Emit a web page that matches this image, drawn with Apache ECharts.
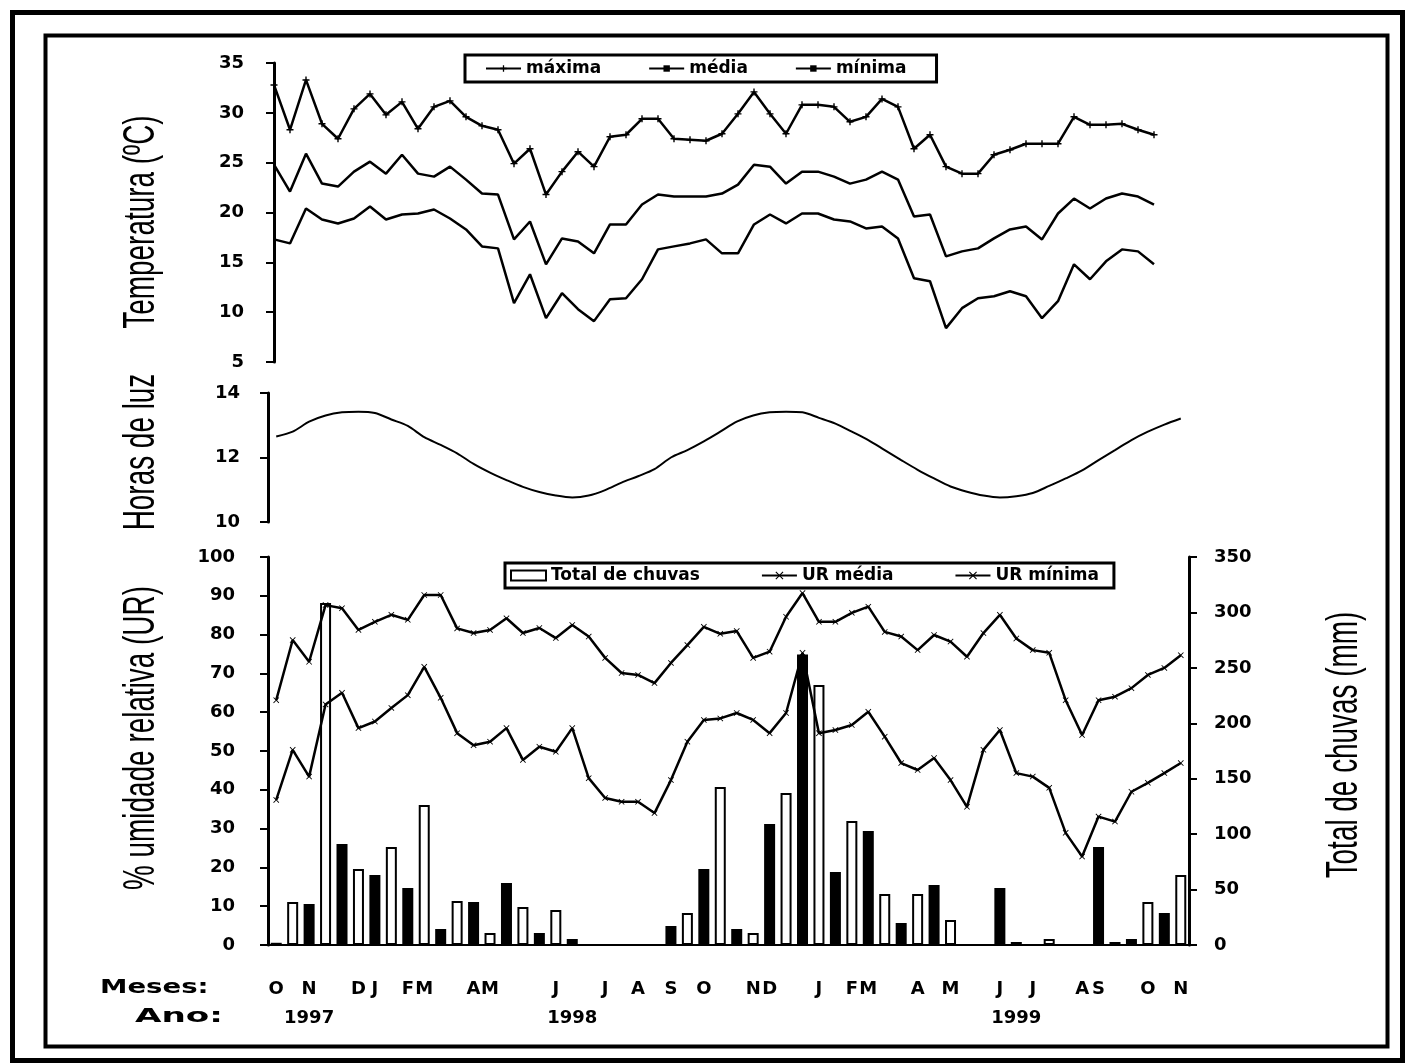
<!DOCTYPE html>
<html>
<head>
<meta charset="utf-8">
<script src="https://cdn.jsdelivr.net/npm/echarts@6/dist/echarts.min.js"></script>
<style>
html,body{margin:0;padding:0;background:#fff;}
#chart{width:1407px;height:1064px;}
</style>
</head>
<body>
<div id="chart"></div>
<script>
// ---- data (biweekly records, Oct 1997 – Nov 1999) ----
const periods = Array.from({length: 56}, (_, i) => String(i));

const tempMax = [32.8, 28.3, 33.3, 28.9, 27.4, 30.4, 31.9, 29.8, 31.1, 28.4, 30.6, 31.2, 29.6, 28.7, 28.3, 24.9, 26.4, 21.8, 24.1, 26.1, 24.6, 27.6, 27.8, 29.4, 29.4, 27.4, 27.3, 27.2, 27.9, 29.9, 32.1, 29.9, 27.9, 30.8, 30.8, 30.6, 29.1, 29.6, 31.4, 30.6, 26.4, 27.8, 24.6, 23.9, 23.9, 25.8, 26.3, 26.9, 26.9, 26.9, 29.6, 28.8, 28.8, 28.9, 28.3, 27.8];
const tempMed = [24.8, 22.1, 25.9, 22.9, 22.6, 24.1, 25.1, 23.9, 25.8, 23.9, 23.6, 24.6, 23.3, 21.9, 21.8, 17.3, 19.1, 14.8, 17.4, 17.1, 15.9, 18.8, 18.8, 20.8, 21.8, 21.6, 21.6, 21.6, 21.9, 22.8, 24.8, 24.6, 22.9, 24.1, 24.1, 23.6, 22.9, 23.3, 24.1, 23.3, 19.6, 19.8, 15.6, 16.1, 16.4, 17.4, 18.3, 18.6, 17.3, 19.9, 21.4, 20.4, 21.4, 21.9, 21.6, 20.8];
const tempMin = [17.3, 16.9, 20.4, 19.3, 18.9, 19.4, 20.6, 19.3, 19.8, 19.9, 20.3, 19.4, 18.3, 16.6, 16.4, 10.9, 13.8, 9.4, 11.9, 10.3, 9.1, 11.3, 11.4, 13.3, 16.3, 16.6, 16.9, 17.3, 15.9, 15.9, 18.8, 19.8, 18.9, 19.9, 19.9, 19.3, 19.1, 18.4, 18.6, 17.4, 13.4, 13.1, 8.4, 10.4, 11.4, 11.6, 12.1, 11.6, 9.4, 11.1, 14.8, 13.3, 15.1, 16.3, 16.1, 14.8];

const dayLength = [12.65, 12.8, 13.11, 13.3, 13.4, 13.42, 13.38, 13.18, 12.98, 12.63, 12.39, 12.13, 11.8, 11.53, 11.3, 11.09, 10.93, 10.82, 10.76, 10.82, 10.99, 11.22, 11.42, 11.64, 12.0, 12.23, 12.5, 12.8, 13.11, 13.3, 13.4, 13.42, 13.4, 13.23, 13.05, 12.8, 12.54, 12.23, 11.92, 11.62, 11.35, 11.1, 10.94, 10.82, 10.76, 10.8, 10.9, 11.12, 11.35, 11.6, 11.92, 12.23, 12.54, 12.8, 13.02, 13.21];

const urMedia = [63.1, 78.6, 73.0, 87.6, 86.8, 81.2, 83.3, 85.1, 83.8, 90.2, 90.2, 81.6, 80.4, 81.2, 84.2, 80.4, 81.7, 79.1, 82.5, 79.5, 74.0, 70.1, 69.6, 67.5, 72.7, 77.3, 82.0, 80.2, 80.9, 74.0, 75.6, 84.6, 90.7, 83.3, 83.3, 85.6, 87.2, 80.7, 79.5, 76.0, 79.9, 78.2, 74.3, 80.4, 85.1, 79.0, 76.0, 75.3, 63.1, 54.1, 63.1, 64.0, 66.2, 69.6, 71.4, 74.7];
const urMinima = [37.4, 50.3, 43.4, 62.0, 65.0, 55.9, 57.6, 61.1, 64.4, 71.7, 63.7, 54.6, 51.5, 52.4, 55.9, 47.7, 51.1, 49.8, 55.9, 43.0, 37.9, 36.9, 36.9, 34.0, 42.5, 52.4, 58.0, 58.4, 59.8, 58.0, 54.6, 59.8, 75.3, 54.6, 55.4, 56.7, 60.1, 53.7, 46.9, 45.1, 48.2, 42.5, 35.6, 50.3, 55.4, 44.3, 43.4, 40.5, 28.9, 22.8, 33.1, 31.8, 39.5, 41.8, 44.3, 46.9];
const chuvas = [2, 38.8, 37, 308.5, 91.1, 68.6, 63.1, 88.4, 51.4, 126.3, 14.4, 39.7, 38.8, 10.8, 55.9, 34.3, 10.8, 31.6, 5.4, 0, 0, 0, 0, 0, 17.1, 28.9, 68.6, 142.5, 14.4, 10.8, 109.1, 137.1, 262, 234.5, 65.8, 111.9, 102.8, 46, 19.8, 46, 54.1, 22.6, 0, 0, 51.4, 2.7, 0, 5.4, 0, 0, 88.4, 2.7, 5.4, 38.8, 28.9, 63.1];

// month / year tick labels keyed by period index
const monthLabels = {0:'O', 2:'N', 5:'D', 6:'J', 8:'F', 9:'M', 12:'A', 13:'M', 17:'J', 20:'J', 22:'A', 24:'S', 26:'O', 29:'N', 30:'D', 33:'J', 35:'F', 36:'M', 39:'A', 41:'M', 44:'J', 46:'J', 49:'A', 50:'S', 53:'O', 55:'N'};
const yearLabels = {2:'1997', 18:'1998', 45:'1999'};

const tempTicks = {min: 5, max: 35, interval: 5};
const lightTicks = {min: 10, max: 14, interval: 2};
const urTicks = {min: 0, max: 100, interval: 10};
const rainTicks = {min: 0, max: 350, interval: 50};

// ---- styling ----
const BLK = '#000';
const tickFont = {color: BLK, fontFamily: 'DejaVu Sans', fontWeight: 'bold', fontSize: 18};
const legendFont = {color: BLK, fontFamily: 'DejaVu Sans', fontWeight: 'bold', fontSize: 17};
const plusSym = 'path://M4,0H6V4H10V6H6V10H4V6H0V4H4Z';
const xSym = 'path://M0,1L1,0L5,4L9,0L10,1L6,5L10,9L9,10L5,6L1,10L0,9L4,5Z';
const dashSym = 'rect';

function yAx(gridIndex, t, extra) {
  return Object.assign({
    type: 'value', gridIndex: gridIndex, min: t.min, max: t.max, interval: t.interval,
    axisLine: {show: true, lineStyle: {color: BLK, width: 3}},
    axisTick: {show: true, inside: false, length: 8, lineStyle: {color: BLK, width: 2}},
    axisLabel: Object.assign({margin: 30}, tickFont),
    splitLine: {show: false}
  }, extra || {});
}
function hiddenX(gridIndex, gap) {
  return {type: 'category', gridIndex: gridIndex, data: periods, boundaryGap: gap,
    axisLine: {show: false}, axisTick: {show: false}, axisLabel: {show: false}, splitLine: {show: false}};
}
function lineSeries(name, data, xi, yi, sym, size, showSym) {
  return {name: name, type: 'line', data: data, xAxisIndex: xi, yAxisIndex: yi,
    symbol: sym, symbolSize: size, showSymbol: showSym,
    lineStyle: {color: BLK, width: 2.5}, itemStyle: {color: BLK},
    emphasis: {disabled: true}, z: 3};
}
function titleText(text, x, y) {
  return {type: 'text', x: x, y: y, rotation: Math.PI / 2, scaleX: 0.62, scaleY: 1,
    style: {text: text, fill: BLK, font: '45px "Liberation Sans", Arial, sans-serif',
      textAlign: 'center', textVerticalAlign: 'middle'}};
}

const chart = echarts.init(document.getElementById('chart'), null, {renderer: 'canvas'});
chart.setOption({
  animation: false,
  backgroundColor: '#fff',
  grid: [
    {left: 274, top: 63, width: 880, height: 299},
    {left: 268, top: 393, width: 921, height: 129},
    {left: 268, top: 557, width: 921, height: 388}
  ],
  xAxis: [
    hiddenX(0, false),
    hiddenX(1, true),
    {type: 'category', gridIndex: 2, data: periods, boundaryGap: true,
      axisLine: {show: true, lineStyle: {color: BLK, width: 2}}, axisTick: {show: false},
      axisLabel: Object.assign({interval: 0, margin: 35, formatter: (v, i) => monthLabels[i] || ''}, tickFont),
      splitLine: {show: false}},
    {type: 'category', gridIndex: 2, data: periods, boundaryGap: true, position: 'bottom', offset: 29,
      axisLine: {show: false}, axisTick: {show: false},
      axisLabel: Object.assign({interval: 0, margin: 35, formatter: (v, i) => yearLabels[i] || ''}, tickFont),
      splitLine: {show: false}}
  ],
  yAxis: [
    yAx(0, tempTicks),
    yAx(1, lightTicks, {axisLabel: Object.assign({margin: 28}, tickFont)}),
    yAx(2, urTicks, {axisLabel: Object.assign({margin: 33}, tickFont)}),
    yAx(2, rainTicks, {position: 'right', axisLabel: Object.assign({margin: 25}, tickFont)})
  ],
  legend: [
    {data: ['máxima', 'média', 'mínima'], left: 465, top: 55, orient: 'horizontal',
      padding: [5, 30, 5, 20], itemGap: 47, itemWidth: 35, itemHeight: 8,
      borderColor: BLK, borderWidth: 3, textStyle: legendFont, selectedMode: false},
    {data: [{name: 'Total de chuvas', icon: 'rect', itemStyle: {color: '#fff', borderColor: BLK, borderWidth: 2}},
            'UR média', 'UR mínima'],
      left: 505, top: 563, orient: 'horizontal',
      padding: [4, 15, 4, 5], itemGap: 61, itemWidth: 35, itemHeight: 10,
      borderColor: BLK, borderWidth: 3, textStyle: legendFont, selectedMode: false}
  ],
  series: [
    lineSeries('máxima', tempMax, 0, 0, plusSym, 7, true),
    lineSeries('média', tempMed, 0, 0, dashSym, [6, 3], false),
    lineSeries('mínima', tempMin, 0, 0, dashSym, [6, 3], false),
    Object.assign(lineSeries('Horas de luz', dayLength, 1, 1, 'none', 0, false), {smooth: 0.3, lineStyle: {color: BLK, width: 2}}),
    {name: 'Total de chuvas', type: 'bar', data: chuvas, xAxisIndex: 2, yAxisIndex: 3,
      barWidth: 11, z: 2, emphasis: {disabled: true},
      itemStyle: {color: p => (p.dataIndex % 2 === 0 ? BLK : '#fff'), borderColor: BLK, borderWidth: 2}},
    lineSeries('UR média', urMedia, 2, 2, xSym, 6, true),
    lineSeries('UR mínima', urMinima, 2, 2, xSym, 6, true)
  ],
  graphic: [
    {type: 'rect', shape: {x: 12.5, y: 12.5, width: 1390, height: 1048}, style: {fill: 'none', stroke: BLK, lineWidth: 5}, z: 100},
    {type: 'rect', shape: {x: 45.5, y: 35.5, width: 1342, height: 1011}, style: {fill: 'none', stroke: BLK, lineWidth: 4}, z: 100},
    titleText('Temperatura (ºC)', 142, 222),
    titleText('Horas de luz', 142, 452),
    titleText('% umidade relativa (UR)', 142, 738),
    titleText('Total de chuvas (mm)', 1345, 745),
    {type: 'text', x: 100, y: 988, scaleX: 1.45, style: {text: 'Meses:', fill: BLK, font: 'bold 19px "DejaVu Sans"', textVerticalAlign: 'middle'}},
    {type: 'text', x: 135, y: 1017, scaleX: 1.8, style: {text: 'Ano:', fill: BLK, font: 'bold 19px "DejaVu Sans"', textVerticalAlign: 'middle'}}
  ]
});
</script>
</body>
</html>
